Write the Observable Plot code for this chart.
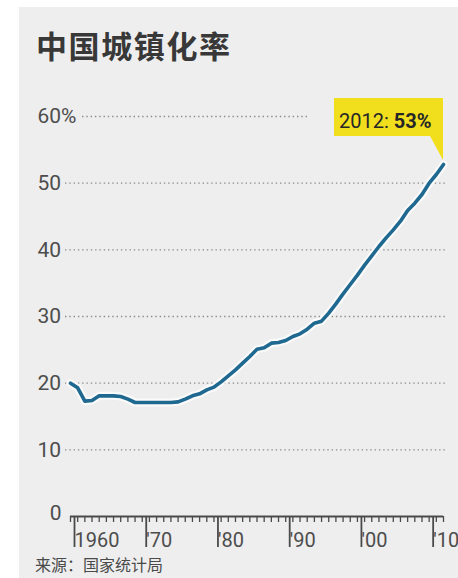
<!DOCTYPE html>
<html>
<head>
<meta charset="utf-8">
<script src="https://cdn.jsdelivr.net/npm/d3@7"></script>
<script src="https://cdn.jsdelivr.net/npm/@observablehq/plot@0.6"></script>
<style>
  html, body { margin: 0; padding: 0; background: #fff; }
  #wrap { position: relative; width: 458px; height: 578px; overflow: hidden; }
  #card { position: absolute; left: 19px; top: 7px; width: 439px; height: 571px; background: #eeeeee; }
  #title { position: absolute; left: 36px; top: 29px; font-family: "Noto Sans CJK SC", sans-serif; font-weight: 700; font-size: 31px; line-height: 1; letter-spacing: 1.6px; color: #383838; }
  #source { position: absolute; left: 35px; top: 556px; font-family: "Noto Sans CJK SC", sans-serif; font-size: 16px; line-height: 1; color: #4a4a4a; }
  #chart { position: absolute; left: 0; top: 0; }
</style>
</head>
<body>
<div id="wrap">
  <div id="card"></div>
  <div id="title"></div>
  <div id="chart"></div>
  <div id="source"></div>
</div>
<script>
const title = "中国城镇化率";
const source = "来源：国家统计局";

const years = [1960,1961,1962,1963,1964,1965,1966,1967,1968,1969,
               1970,1971,1972,1973,1974,1975,1976,1977,1978,1979,
               1980,1981,1982,1983,1984,1985,1986,1987,1988,1989,
               1990,1991,1992,1993,1994,1995,1996,1997,1998,1999,
               2000,2001,2002,2003,2004,2005,2006,2007,2008,2009,
               2010,2011,2012];
const urbanRate = [20.0,19.3,17.3,17.4,18.1,18.1,18.1,18.0,17.6,17.1,
                   17.1,17.1,17.1,17.1,17.1,17.2,17.6,18.1,18.4,19.0,
                   19.4,20.2,21.1,22.0,23.0,24.0,25.1,25.3,26.0,26.1,
                   26.4,27.0,27.4,28.1,29.0,29.3,30.5,31.9,33.4,34.8,
                   36.2,37.7,39.1,40.5,41.8,43.0,44.3,45.9,47.0,48.3,
                   50.0,51.3,52.8];
const yTicks = [10, 20, 30, 40, 50, 60];
const decadeTicks = [1960, 1970, 1980, 1990, 2000, 2010];
const yearTicks = d3.range(1960, 2013);

const data = years.map((y, i) => ({year: y, value: urbanRate[i]}));
const last = data[data.length - 1];

document.getElementById("title").textContent = title;
document.getElementById("source").textContent = source;

const numFont = "Roboto, 'Open Sans', sans-serif";
const dotted = {stroke: "#8a8a8a", strokeWidth: 1.3, strokeDasharray: "1.4 2.9"};

const callout = (index, scales) => {
  const px = scales.x(last.year), py = scales.y(last.value);
  const L = px - 109, R = px, T = py - 66, B = py - 28;
  const g = d3.create("svg:g");
  g.append("path")
    .attr("d", `M${L},${T}H${R}V${py - 4}L${R - 13},${B}H${L}Z`)
    .attr("fill", "#f1df1e");
  const t = g.append("text")
    .attr("x", L + 5).attr("y", B - 8)
    .attr("text-anchor", "start")
    .attr("font-family", numFont).attr("font-size", 20)
    .attr("fill", "#262626");
  t.append("tspan").text(`${last.year}: `);
  t.append("tspan").attr("font-weight", 700).text(`${Math.round(last.value)}%`);
  return g.node();
};

const chart = Plot.plot({
  width: 458,
  height: 578,
  marginLeft: 70,
  marginRight: 15,
  marginTop: 116,
  marginBottom: 62,
  style: {background: "transparent", overflow: "visible", fontFamily: numFont},
  x: {domain: [1960, 2012]},
  y: {domain: [0, 60]},
  marks: [
    Plot.ruleY(yTicks.filter(d => d !== 60), {...dotted, insetLeft: -5, insetRight: -2}),
    Plot.ruleY([60], {...dotted, insetLeft: 12, insetRight: 135}),
    Plot.axisY({ticks: yTicks, tickSize: 0, tickPadding: 33, textAnchor: "start",
      tickFormat: d => d === 60 ? "60%" : String(d), fontSize: 21, fill: "#4d4d4d", label: null}),
    Plot.axisY({ticks: [0], tickSize: 0, tickPadding: 9, textAnchor: "end", dy: -3,
      tickFormat: d => String(d), fontSize: 21, fill: "#4d4d4d", label: null}),
    Plot.axisX({ticks: yearTicks, tickSize: 6, tickFormat: () => "", stroke: "#4a4a4a", strokeWidth: 1.3, label: null}),
    Plot.axisX({ticks: decadeTicks, tickSize: 31, tickPadding: -15, textAnchor: "start", dx: 4,
      tickFormat: d => d === 1960 ? "1960" : "'" + String(d).slice(2),
      fontSize: 20, fill: "#4d4d4d", stroke: "#4a4a4a", strokeWidth: 1.8, label: null}),
    Plot.ruleY([0], {stroke: "#4a4a4a", strokeWidth: 2}),
    Plot.line(data, {x: "year", y: "value", stroke: "#ffffff", strokeOpacity: 0.7, strokeWidth: 8, strokeLinejoin: "round"}),
    Plot.line(data, {x: "year", y: "value", stroke: "#1f6890", strokeWidth: 3.6, strokeLinejoin: "round", strokeLinecap: "round"}),
    callout
  ]
});
document.getElementById("chart").appendChild(chart);
</script>
</body>
</html>
